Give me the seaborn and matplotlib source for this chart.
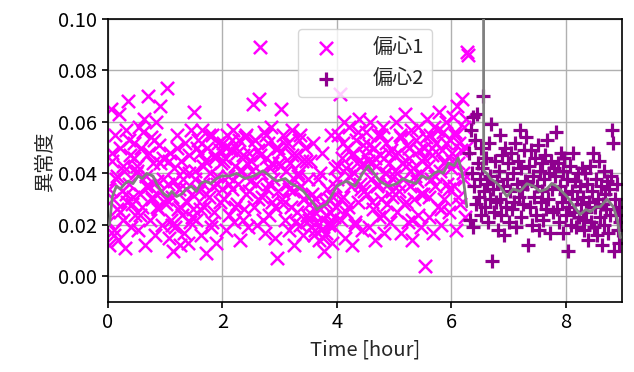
import numpy as np
import pandas as pd
import matplotlib
matplotlib.use("Agg")
import matplotlib.pyplot as plt
from matplotlib import font_manager
import seaborn as sns

# --- eccentricity 1 (x markers): anomaly score per half-hour block ---
ecc1_blocks = [(0.0, 0.5), (0.5, 1.0), (1.0, 1.5), (1.5, 2.0), (2.0, 2.5), (2.5, 3.0),
               (3.0, 3.5), (3.5, 4.0), (4.0, 4.5), (4.5, 5.0), (5.0, 5.5), (5.5, 6.0),
               (6.0, 6.3)]
ecc1_scores = [
    [0.021, 0.012, 0.065, 0.045, 0.030, 0.016, 0.055, 0.038, 0.026, 0.014, 0.063, 0.050, 0.033,
     0.022, 0.041, 0.011, 0.057, 0.029, 0.068, 0.036, 0.047, 0.019, 0.031, 0.052, 0.024, 0.040],
    [0.043, 0.018, 0.058, 0.032, 0.050, 0.027, 0.061, 0.012, 0.039, 0.047, 0.070, 0.035, 0.022,
     0.054, 0.030, 0.044, 0.016, 0.060, 0.037, 0.026, 0.051, 0.066, 0.033, 0.020, 0.046, 0.029],
    [0.028, 0.073, 0.036, 0.015, 0.048, 0.022, 0.031, 0.010, 0.042, 0.019, 0.055, 0.026, 0.034,
     0.012, 0.045, 0.024, 0.038, 0.017, 0.052, 0.029, 0.013, 0.040, 0.021, 0.057, 0.032, 0.026],
    [0.064, 0.041, 0.022, 0.053, 0.033, 0.048, 0.016, 0.057, 0.036, 0.027, 0.045, 0.009, 0.050,
     0.031, 0.040, 0.019, 0.055, 0.035, 0.025, 0.047, 0.013, 0.039, 0.052, 0.029, 0.044, 0.034],
    [0.052, 0.030, 0.046, 0.018, 0.055, 0.039, 0.024, 0.049, 0.034, 0.057, 0.021, 0.043, 0.050,
     0.028, 0.036, 0.053, 0.014, 0.041, 0.047, 0.026, 0.054, 0.032, 0.044, 0.019, 0.048, 0.037],
    [0.045, 0.067, 0.027, 0.053, 0.036, 0.020, 0.049, 0.069, 0.089, 0.040, 0.031, 0.056, 0.017,
     0.046, 0.034, 0.052, 0.024, 0.042, 0.058, 0.029, 0.038, 0.015, 0.050, 0.007, 0.033, 0.044],
    [0.048, 0.065, 0.030, 0.055, 0.022, 0.041, 0.036, 0.052, 0.018, 0.044, 0.027, 0.057, 0.033,
     0.012, 0.047, 0.025, 0.039, 0.053, 0.020, 0.035, 0.045, 0.016, 0.030, 0.050, 0.024, 0.038],
    [0.028, 0.045, 0.019, 0.024, 0.052, 0.016, 0.030, 0.021, 0.038, 0.014, 0.026, 0.018, 0.048,
     0.022, 0.010, 0.029, 0.017, 0.034, 0.020, 0.025, 0.055, 0.013, 0.031, 0.023, 0.042, 0.027],
    [0.038, 0.055, 0.071, 0.022, 0.046, 0.031, 0.060, 0.015, 0.042, 0.050, 0.027, 0.058, 0.035,
     0.012, 0.048, 0.040, 0.020, 0.053, 0.044, 0.029, 0.061, 0.036, 0.018, 0.051, 0.033, 0.047],
    [0.056, 0.032, 0.045, 0.019, 0.060, 0.038, 0.026, 0.050, 0.014, 0.043, 0.035, 0.055, 0.023,
     0.047, 0.030, 0.058, 0.017, 0.040, 0.052, 0.028, 0.036, 0.044, 0.021, 0.049, 0.033, 0.039],
    [0.041, 0.060, 0.025, 0.048, 0.033, 0.055, 0.017, 0.044, 0.038, 0.063, 0.029, 0.051, 0.021,
     0.046, 0.035, 0.057, 0.014, 0.042, 0.030, 0.053, 0.037, 0.024, 0.049, 0.040, 0.019, 0.045],
    [0.032, 0.050, 0.004, 0.061, 0.043, 0.023, 0.055, 0.038, 0.047, 0.017, 0.058, 0.035, 0.052,
     0.027, 0.064, 0.041, 0.020, 0.049, 0.056, 0.030, 0.045, 0.060, 0.036, 0.025, 0.053, 0.042],
    [0.048, 0.062, 0.035, 0.055, 0.018, 0.066, 0.044, 0.052, 0.028, 0.069, 0.040, 0.058, 0.023,
     0.050, 0.087, 0.086],
]
# second sampling pass, interleaved in time with the first
ecc1_scores_b = [
    [0.034, 0.048, 0.018, 0.039, 0.025, 0.043, 0.032, 0.053, 0.028, 0.046],
    [0.041, 0.024, 0.056, 0.035, 0.048, 0.031, 0.053, 0.027, 0.044, 0.038],
    [0.030, 0.045, 0.020, 0.037, 0.050, 0.027, 0.041, 0.034, 0.047, 0.023],
    [0.038, 0.050, 0.026, 0.043, 0.032, 0.055, 0.021, 0.046, 0.036, 0.049],
    [0.045, 0.050, 0.036, 0.053, 0.027, 0.048, 0.041, 0.022, 0.055, 0.033],
    [0.041, 0.053, 0.030, 0.047, 0.022, 0.055, 0.036, 0.044, 0.027, 0.050],
    [0.043, 0.028, 0.051, 0.034, 0.047, 0.021, 0.040, 0.055, 0.030, 0.045],
    [0.022, 0.032, 0.018, 0.027, 0.040, 0.015, 0.024, 0.030, 0.020, 0.035],
    [0.043, 0.030, 0.052, 0.025, 0.039, 0.047, 0.021, 0.056, 0.034, 0.044],
    [0.042, 0.051, 0.029, 0.046, 0.036, 0.055, 0.024, 0.040, 0.048, 0.031],
    [0.047, 0.036, 0.054, 0.028, 0.043, 0.050, 0.022, 0.039, 0.058, 0.032],
    [0.046, 0.054, 0.031, 0.050, 0.039, 0.057, 0.026, 0.044, 0.052, 0.034],
    [0.045, 0.056, 0.031, 0.049, 0.038, 0.061],
]

# --- eccentricity 2 (+ markers) ---
ecc2_blocks = [(6.3, 6.8), (6.8, 7.3), (7.3, 7.8), (7.8, 8.3), (8.3, 8.8), (8.8, 8.96)]
ecc2_scores = [
    [0.048, 0.022, 0.057, 0.040, 0.019, 0.062, 0.035, 0.053, 0.028, 0.063, 0.044, 0.031, 0.038,
     0.050, 0.024, 0.042, 0.070, 0.033, 0.027, 0.046, 0.036, 0.021, 0.052, 0.030, 0.039, 0.059,
     0.006, 0.034, 0.025, 0.045, 0.029, 0.037],
    [0.018, 0.041, 0.055, 0.030, 0.024, 0.047, 0.035, 0.016, 0.050, 0.027, 0.038, 0.044, 0.021,
     0.033, 0.048, 0.026, 0.040, 0.029, 0.052, 0.019, 0.036, 0.045, 0.031, 0.057, 0.023, 0.042,
     0.034, 0.028, 0.049, 0.037],
    [0.054, 0.036, 0.012, 0.043, 0.027, 0.049, 0.020, 0.039, 0.031, 0.046, 0.024, 0.035, 0.051,
     0.018, 0.041, 0.029, 0.044, 0.033, 0.022, 0.038, 0.047, 0.026, 0.053, 0.030, 0.040, 0.017,
     0.045, 0.034, 0.025, 0.042],
    [0.039, 0.056, 0.026, 0.044, 0.021, 0.035, 0.048, 0.029, 0.041, 0.017, 0.046, 0.032, 0.024,
     0.038, 0.010, 0.027, 0.043, 0.020, 0.033, 0.048, 0.025, 0.037, 0.019, 0.030, 0.040, 0.023,
     0.035, 0.028, 0.042, 0.022],
    [0.031, 0.018, 0.040, 0.025, 0.036, 0.014, 0.029, 0.043, 0.021, 0.033, 0.048, 0.019, 0.027,
     0.038, 0.016, 0.030, 0.045, 0.023, 0.035, 0.012, 0.028, 0.041, 0.020, 0.032, 0.026, 0.037,
     0.017, 0.034, 0.024, 0.039],
    [0.057, 0.052, 0.010, 0.030, 0.024, 0.036, 0.018, 0.027, 0.013, 0.021],
]

# --- moving-average trend lines ---
trend1_time = [0.03, 0.08, 0.15, 0.22, 0.30, 0.36, 0.44, 0.53, 0.60, 0.68, 0.79, 0.85, 0.91, 0.98,
               1.05, 1.12, 1.20, 1.29, 1.37, 1.46, 1.55, 1.62, 1.70, 1.80, 1.90, 1.99, 2.13, 2.25,
               2.40, 2.55, 2.71, 2.83, 2.95, 3.10, 3.20, 3.30, 3.42, 3.53, 3.60, 3.65, 3.72, 3.82,
               3.90, 4.00, 4.08, 4.17, 4.25, 4.32, 4.45, 4.55, 4.65, 4.75, 4.90, 5.05, 5.15, 5.25,
               5.38, 5.48, 5.60, 5.70, 5.78, 5.86, 5.95, 6.05, 6.12, 6.18, 6.22, 6.27]
trend1_value = [0.020, 0.031, 0.035, 0.034, 0.036, 0.037, 0.036, 0.039, 0.038, 0.040, 0.039, 0.036,
                0.034, 0.032, 0.031, 0.033, 0.031, 0.032, 0.034, 0.035, 0.033, 0.036, 0.037, 0.036,
                0.038, 0.039, 0.039, 0.040, 0.038, 0.039, 0.041, 0.039, 0.037, 0.038, 0.036, 0.035,
                0.033, 0.030, 0.028, 0.026, 0.027, 0.028, 0.031, 0.035, 0.036, 0.037, 0.036, 0.035,
                0.040, 0.043, 0.040, 0.037, 0.035, 0.036, 0.038, 0.037, 0.036, 0.039, 0.038, 0.040,
                0.041, 0.040, 0.044, 0.043, 0.046, 0.041, 0.036, 0.027]
trend2_time = [6.560, 6.565, 6.62, 6.68, 6.75, 6.85, 6.97, 7.08, 7.20, 7.32, 7.44, 7.55, 7.67, 7.75,
               7.84, 7.93, 8.02, 8.12, 8.25, 8.35, 8.43, 8.52, 8.60, 8.72, 8.83, 8.90, 8.95]
trend2_value = [0.200, 0.041, 0.040, 0.038, 0.037, 0.035, 0.031, 0.034, 0.033, 0.036, 0.035, 0.033,
                0.034, 0.036, 0.035, 0.033, 0.031, 0.028, 0.024, 0.026, 0.025, 0.027, 0.027, 0.030,
                0.027, 0.022, 0.015]

labels = ["偏心1", "偏心2"]
x_ticks = [0, 2, 4, 6, 8]
y_ticks = [0.00, 0.02, 0.04, 0.06, 0.08, 0.10]


def block_frame(blocks, scores, shift=0.5):
    """Spread each block's samples evenly over its time span."""
    times, values = [], []
    for (t0, t1), vals in zip(blocks, scores):
        n = len(vals)
        step = (t1 - t0) / n
        times.extend(t0 + step * (i + shift) for i in range(n))
        values.extend(vals)
    return pd.DataFrame({"time": times, "score": values})


df1 = pd.concat([block_frame(ecc1_blocks, ecc1_scores),
                 block_frame(ecc1_blocks, ecc1_scores_b, 0.3)], ignore_index=True)
df2 = block_frame(ecc2_blocks, ecc2_scores)
tr1 = pd.DataFrame({"time": trend1_time, "score": trend1_value})
tr2 = pd.DataFrame({"time": trend2_time, "score": trend2_value})

sns.set_style("ticks")
installed = {f.name for f in font_manager.fontManager.ttflist}
jp = "Noto Sans Mono CJK JP" if "Noto Sans Mono CJK JP" in installed else "Noto Sans CJK JP"
plt.rcParams["font.family"] = [jp, "DejaVu Sans"]
plt.rcParams["font.size"] = 14.5
plt.rcParams["axes.unicode_minus"] = False

fig = plt.figure(figsize=(6.34, 3.72), dpi=100)
ax = fig.add_axes([0.170, 0.188, 0.811, 0.761])

sns.scatterplot(data=df1, x="time", y="score", marker="x", color="#ff00ff", s=90,
                linewidth=1.8, label=labels[0], ax=ax, zorder=2)
sns.scatterplot(data=df2, x="time", y="score", marker="+", color="#8e008e", s=100,
                linewidth=2.3, label=labels[1], ax=ax, zorder=2)
sns.lineplot(data=tr1, x="time", y="score", color="#808080", linewidth=2.0,
             estimator=None, sort=False, ax=ax, zorder=3)
sns.lineplot(data=tr2, x="time", y="score", color="#808080", linewidth=2.0,
             estimator=None, sort=False, ax=ax, zorder=3)

ax.set_xlim(0, 8.98)
ax.set_ylim(-0.01, 0.10)
ax.set_xticks(x_ticks)
ax.set_yticks(y_ticks)
ax.yaxis.set_major_formatter(matplotlib.ticker.FormatStrFormatter("%.2f"))
ax.grid(True, color="#b0b0b0", linewidth=1.0)
ax.set_axisbelow(True)
for sp in ax.spines.values():
    sp.set_visible(True)
    sp.set_color("black")
    sp.set_linewidth(1.2)
ax.tick_params(direction="out", length=4, width=1.2, colors="black", labelsize=14.5)

ax.set_xlabel("Time [hour]")
ax.set_ylabel("異常度", labelpad=2)

ax.legend(loc="upper center", framealpha=0.8, handletextpad=1.3, borderaxespad=0.5,
          fontsize=14.5)

fig.savefig("out.png", dpi=100)
